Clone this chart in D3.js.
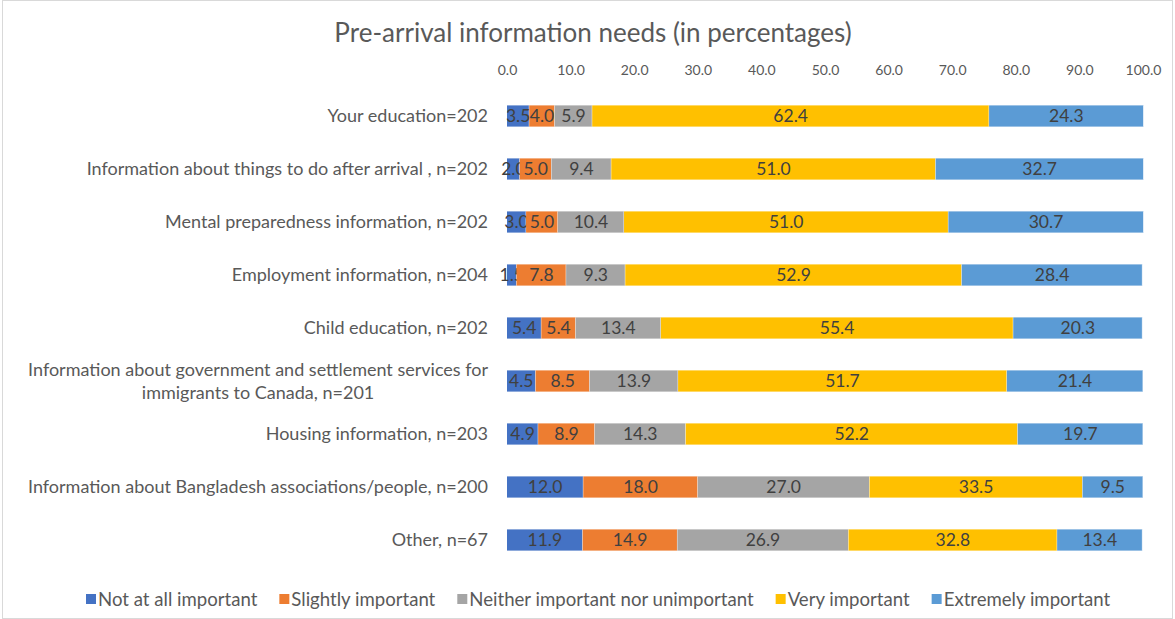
<!DOCTYPE html>
<html>
<head>
<meta charset="utf-8">
<script src="https://cdn.jsdelivr.net/npm/d3@7"></script>
<style>
  body { margin: 0; background: #fff; }
  text { font-family: Lato, "Open Sans", sans-serif; }
</style>
</head>
<body>
<div id="chart"></div>
<script>
/**
 * DATA
 * */
const categories = [
  "Your education=202",
  "Information about things to do after arrival , n=202",
  "Mental preparedness information, n=202",
  "Employment information, n=204",
  "Child education, n=202",
  "Information about government and settlement services for|immigrants to Canada, n=201",
  "Housing information, n=203",
  "Information about Bangladesh associations/people, n=200",
  "Other, n=67"
];
const seriesNames = ["Not at all important", "Slightly important", "Neither important nor unimportant", "Very important", "Extremely important"];
const notAtAll   = [3.5, 2.0, 3.0, 1.5, 5.4, 4.5, 4.9, 12.0, 11.9];
const slightly   = [4.0, 5.0, 5.0, 7.8, 5.4, 8.5, 8.9, 18.0, 14.9];
const neither    = [5.9, 9.4, 10.4, 9.3, 13.4, 13.9, 14.3, 27.0, 26.9];
const very       = [62.4, 51.0, 51.0, 52.9, 55.4, 51.7, 52.2, 33.5, 32.8];
const extremely  = [24.3, 32.7, 30.7, 28.4, 20.3, 21.4, 19.7, 9.5, 13.4];
const tickValues = [0, 10, 20, 30, 40, 50, 60, 70, 80, 90, 100];

/**
 * CONSTANTS
 * */
const width = 1175, height = 619;
const colors = ["#4472C4", "#ED7D31", "#A5A5A5", "#FFC000", "#5B9BD5"];
const margin = { top: 89.5, left: 507, right: 32, bottom: 52.5 };

const svg = d3.select("#chart").append("svg")
  .attr("width", width)
  .attr("height", height);

svg.append("rect")
  .attr("x", 2.5).attr("y", 0.5)
  .attr("width", width - 5).attr("height", height - 1)
  .attr("fill", "#fff").attr("stroke", "#d9d9d9");

// title
svg.append("text")
  .attr("x", 593).attr("y", 42)
  .attr("text-anchor", "middle")
  .attr("font-size", 26)
  .attr("fill", "#595959")
  .text("Pre-arrival information needs (in percentages)");

const x = d3.scaleLinear().domain([0, 100]).range([margin.left, width - margin.right]);
const y = d3.scaleBand().domain(categories).range([margin.top, height - margin.bottom]).paddingInner(0.6).paddingOuter(0.3);

// axis on top, no line / ticks
const axis = svg.append("g")
  .attr("transform", `translate(0, 75)`)
  .call(d3.axisTop(x).tickValues(tickValues).tickFormat(d3.format(".1f")).tickSize(0).tickPadding(0));
axis.select(".domain").remove();
axis.selectAll("text")
  .attr("font-size", 14)
  .attr("fill", "#595959")
  .style("font-family", "Lato, 'Open Sans', sans-serif");

// stack
const rows = categories.map((c, i) => ({
  cat: c,
  "0": notAtAll[i], "1": slightly[i], "2": neither[i], "3": very[i], "4": extremely[i]
}));
const stacked = d3.stack().keys(["0", "1", "2", "3", "4"])(rows);

const layers = svg.selectAll("g.layer")
  .data(stacked)
  .join("g")
  .attr("class", "layer")
  .attr("fill", (d, i) => colors[i]);

layers.selectAll("rect")
  .data(d => d)
  .join("rect")
  .attr("x", d => x(d[0]))
  .attr("y", d => y(d.data.cat))
  .attr("width", d => x(d[1]) - x(d[0]))
  .attr("height", y.bandwidth());

// white separators like the original
layers.selectAll("line")
  .data(d => d)
  .join("line")
  .attr("x1", d => x(d[1])).attr("x2", d => x(d[1]))
  .attr("y1", d => y(d.data.cat)).attr("y2", d => y(d.data.cat) + y.bandwidth())
  .attr("stroke", "#fff").attr("stroke-width", 0.8);

// value labels
layers.selectAll("text")
  .data(d => d)
  .join("text")
  .attr("x", d => (x(d[0]) + x(d[1])) / 2)
  .attr("y", d => y(d.data.cat) + y.bandwidth() / 2)
  .attr("dy", "0.36em")
  .attr("text-anchor", "middle")
  .attr("font-size", 17.5)
  .attr("fill", "#404040")
  .text(d => d3.format(".1f")(d[1] - d[0]));

// category labels
const labelX = margin.left - 19;
categories.forEach(c => {
  const lines = c.split("|");
  const cy = y(c) + y.bandwidth() / 2;
  if (lines.length === 1) {
    svg.append("text")
      .attr("x", labelX).attr("y", cy).attr("dy", "0.36em")
      .attr("text-anchor", "end")
      .attr("font-size", 18).attr("fill", "#595959")
      .text(c);
  } else {
    const t = svg.append("text")
      .attr("text-anchor", "middle")
      .attr("font-size", 18).attr("fill", "#595959");
    const first = t.append("tspan").text(lines[0]);
    const w = first.node().getComputedTextLength();
    const cx = labelX - w / 2;
    first.attr("x", cx).attr("y", cy - 11.5).attr("dy", "0.36em");
    t.append("tspan").attr("x", cx).attr("y", cy + 11.5).attr("dy", "0.36em").text(lines[1]);
  }
});

// legend
const legend = svg.append("g").attr("transform", "translate(0, 599)");
let lx = 86;
seriesNames.forEach((name, i) => {
  legend.append("rect")
    .attr("x", lx).attr("y", -5)
    .attr("width", 10).attr("height", 10)
    .attr("fill", colors[i]);
  const t = legend.append("text")
    .attr("x", lx + 12).attr("y", 0).attr("dy", "0.36em")
    .attr("font-size", 18.6).attr("fill", "#595959")
    .text(name);
  lx += 12 + t.node().getComputedTextLength() + 22;
});
</script>
</body>
</html>
